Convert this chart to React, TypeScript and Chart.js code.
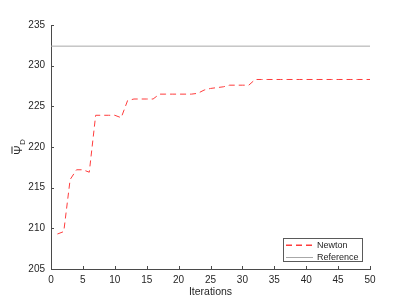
import React, { useEffect, useRef } from "react";
import { Chart, registerables } from "chart.js";

Chart.register(...registerables);

const iterations = [
  1, 2, 3, 4, 5, 6, 7, 8, 9, 10, 11, 12, 13, 14, 15, 16, 17, 18, 19, 20, 21, 22, 23, 24, 25,
  26, 27, 28, 29, 30, 31, 32, 33, 34, 35, 36, 37, 38, 39, 40, 41, 42, 43, 44, 45, 46, 47, 48, 49, 50,
];
const newtonValues = [
  209.3, 209.6, 216.0, 217.2, 217.2, 216.9, 223.9, 223.9, 223.9, 223.9, 223.6, 225.7, 225.9, 225.9, 225.9,
  225.9, 226.5, 226.5, 226.5, 226.5, 226.5, 226.5, 226.6, 227.0, 227.2, 227.3, 227.4, 227.6, 227.6, 227.6,
  227.6, 228.3, 228.3, 228.3, 228.3, 228.3, 228.3, 228.3, 228.3, 228.3, 228.3, 228.3, 228.3, 228.3, 228.3,
  228.3, 228.3, 228.3, 228.3, 228.3,
];
const referenceX = [0, 50];
const referenceValue = 232.4;
const xTicks = [0, 5, 10, 15, 20, 25, 30, 35, 40, 45, 50];
const yTicks = [205, 210, 215, 220, 225, 230, 235];
const seriesNames = ["Newton", "Reference"];
const seriesColors = ["rgb(255, 60, 60)", "rgb(168, 168, 168)"];
const xTitle = "Iterations";

const FONT = "'Liberation Sans', Arial, Helvetica, sans-serif";
const TEXT = "#262626";
const AXIS = "#4a4a4a";

const decorPlugin = {
  id: "decor",
  afterDraw(chart: any) {
    const ctx = chart.ctx;
    const xs = chart.scales.x;
    const ys = chart.scales.y;
    const area = chart.chartArea;
    ctx.save();
    // inward ticks
    ctx.strokeStyle = AXIS;
    ctx.lineWidth = 1;
    ctx.beginPath();
    for (const t of xTicks) {
      const px = Math.round(xs.getPixelForValue(t)) + 0.5;
      ctx.moveTo(px, area.bottom);
      ctx.lineTo(px, area.bottom - 3);
    }
    for (const t of yTicks) {
      const py = Math.round(ys.getPixelForValue(t)) + 0.5;
      ctx.moveTo(area.left, py);
      ctx.lineTo(area.left + 3, py);
    }
    ctx.stroke();

    // x title
    ctx.fillStyle = TEXT;
    ctx.font = `10.5px ${FONT}`;
    ctx.textAlign = "center";
    ctx.textBaseline = "middle";
    ctx.fillText(xTitle, (area.left + area.right) / 2, area.bottom + 23);

    // y title: Psi-bar with subscript D
    ctx.save();
    ctx.translate(22, (area.top + area.bottom) / 2);
    ctx.rotate(-Math.PI / 2);
    ctx.font = `11px ${FONT}`;
    ctx.textBaseline = "alphabetic";
    ctx.textAlign = "left";
    const wPsi = ctx.measureText("\u03A8").width;
    ctx.font = `8px ${FONT}`;
    const wD = ctx.measureText("D").width;
    const total = wPsi + wD + 0.5;
    const x0 = -total / 2;
    ctx.font = `11px ${FONT}`;
    ctx.fillStyle = TEXT;
    ctx.fillText("\u03A8", x0, 0);
    ctx.fillRect(x0 + 1, -10.5, wPsi - 2, 1);
    ctx.font = `8px ${FONT}`;
    ctx.fillText("D", x0 + wPsi + 0.5, 3);
    ctx.restore();

    // legend box
    ctx.font = `9px ${FONT}`;
    const textW = Math.max(...seriesNames.map((n) => ctx.measureText(n).width));
    const lineLen = 27;
    const boxW = Math.round(3 + lineLen + 4 + textW + 3);
    const boxH = 23;
    const bx = Math.round(area.right - 8 - boxW);
    const by = Math.round(area.bottom - 8 - boxH);
    ctx.fillStyle = "#ffffff";
    ctx.fillRect(bx, by, boxW, boxH);
    ctx.strokeStyle = "#5a5a5a";
    ctx.lineWidth = 1;
    ctx.strokeRect(bx + 0.5, by + 0.5, boxW, boxH);
    seriesNames.forEach((name, i) => {
      const cy = by + 7 + Math.round(i * 11.5);
      ctx.fillStyle = seriesColors[i];
      if (i === 0) {
        for (let s = 0; s < lineLen; s += 10) {
          ctx.fillRect(bx + 3 + s, cy - 0.5, Math.min(6, lineLen - s), 1.5);
        }
      } else {
        ctx.fillRect(bx + 3, cy, lineLen, 1);
      }
      ctx.fillStyle = TEXT;
      ctx.textAlign = "left";
      ctx.textBaseline = "middle";
      ctx.fillText(name, bx + 3 + lineLen + 4, cy + 1);
    });
    ctx.restore();
  },
};

export default function App() {
  const ref = useRef<HTMLCanvasElement | null>(null);
  useEffect(() => {
    document.body.style.margin = "0";
    const canvas = ref.current!;
    const chart = new Chart(canvas, {
      type: "line",
      data: {
        datasets: [
          {
            label: seriesNames[0],
            data: iterations.map((x, i) => ({ x, y: newtonValues[i] })),
            borderColor: seriesColors[0],
            borderWidth: 1,
            borderDash: [6, 4],
            pointRadius: 0,
            fill: false,
            tension: 0,
          },
          {
            label: seriesNames[1],
            data: referenceX.map((x) => ({ x, y: referenceValue })),
            borderColor: seriesColors[1],
            borderWidth: 1,
            pointRadius: 0,
            fill: false,
          },
        ],
      },
      options: {
        responsive: false,
        animation: false,
        layout: { padding: { left: 0, right: 37, top: 25, bottom: 0 } },
        plugins: { legend: { display: false }, tooltip: { enabled: false } },
        scales: {
          x: {
            type: "linear",
            min: 0,
            max: 50,
            afterFit: (s: any) => {
              s.height = 36;
            },
            afterBuildTicks: (s: any) => {
              s.ticks = xTicks.map((v) => ({ value: v }));
            },
            grid: { display: true, drawOnChartArea: false, drawTicks: false, color: AXIS },
            border: { display: true, color: AXIS, width: 1 },
            ticks: { color: TEXT, font: { family: FONT, size: 10 }, padding: 5, maxRotation: 0 },
          },
          y: {
            type: "linear",
            min: 205,
            max: 235,
            afterFit: (s: any) => {
              s.width = 51;
            },
            afterBuildTicks: (s: any) => {
              s.ticks = yTicks.map((v) => ({ value: v }));
            },
            grid: { display: true, drawOnChartArea: false, drawTicks: false, color: AXIS },
            border: { display: true, color: AXIS, width: 1 },
            ticks: { color: TEXT, font: { family: FONT, size: 10 }, padding: 6 },
          },
        },
      },
      plugins: [decorPlugin],
    });
    return () => chart.destroy();
  }, []);
  return (
    <div style={{ position: "absolute", left: 0, top: 0, width: 407, height: 305, background: "#fff" }}>
      <canvas ref={ref} width={407} height={305} style={{ display: "block" }} />
    </div>
  );
}
